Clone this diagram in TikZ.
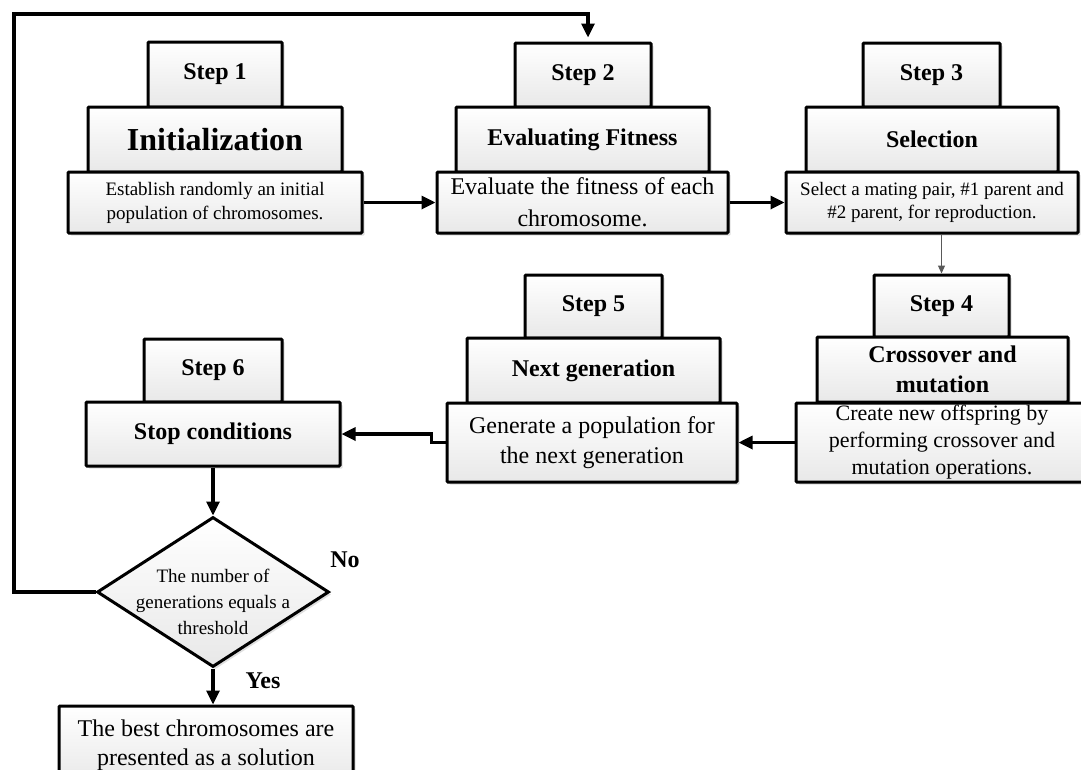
\documentclass[tikz,border=0pt]{standalone}
\usepackage{fontspec}
\setmainfont{Liberation Serif}
\usetikzlibrary{arrows.meta,shapes.geometric,shadows,calc}
\tikzset{
  box/.style={draw=black, line width=3pt, rounded corners=1pt, top color=white, bottom color=gray!18,
    drop shadow={shadow xshift=2.5pt, shadow yshift=-2.5pt, fill=black!25},
    inner sep=1pt, align=center, anchor=center},
  hd/.style={font=\bfseries\fontsize{24}{28}\selectfont},
  conn/.style={line width=3.2pt, -{Triangle[length=14pt,width=13pt]}},
  thinarrow/.style={line width=1.2pt, draw=black!65, -{Triangle[length=8pt,width=7pt]}},
  lab/.style={font=\bfseries\fontsize{24}{28}\selectfont, inner sep=0pt}
}
\begin{document}
\begin{tikzpicture}[x=1pt,y=-1pt]
\useasboundingbox (0,0) rectangle (1081,769);
\clip (0,0) rectangle (1081,769);
% Step 1
\node[box,hd,minimum width=134pt,minimum height=65pt] (s1) at (215,74.5) {Step 1};
\node[box,font=\bfseries\fontsize{32}{36}\selectfont,minimum width=254pt,minimum height=65pt] (t1) at (215,139.5) {Initialization};
\node[box,font=\fontsize{19}{24}\selectfont,minimum width=294pt,minimum height=61pt] (d1) at (215,202.5) {Establish randomly an initial\\population of chromosomes.};
% Step 2
\node[box,hd,minimum width=136pt,minimum height=64pt] (s2) at (583,75) {Step 2};
\node[box,hd,minimum width=253pt,minimum height=65pt] (t2) at (582.5,139.5) {Evaluating Fitness};
\node[box,font=\fontsize{24}{32}\selectfont,minimum width=291pt,minimum height=61pt] (d2) at (582.5,202.5) {Evaluate the fitness of each\\chromosome.};
% Step 3
\node[box,hd,minimum width=137pt,minimum height=64pt] (s3) at (931.5,75) {Step 3};
\node[box,hd,minimum width=252pt,minimum height=65pt] (t3) at (932,139.5) {Selection};
\node[box,font=\fontsize{19}{23}\selectfont,minimum width=292pt,minimum height=61pt] (d3) at (932,202.5) {Select a mating pair, \#1 parent and\\\#2 parent, for reproduction.};
% Step 4
\node[box,hd,minimum width=135pt,minimum height=62pt] (s4) at (941.5,306) {Step 4};
\node[box,font=\bfseries\fontsize{24}{30}\selectfont,minimum width=251pt,minimum height=65pt] (t4) at (942.5,369.5) {Crossover and\\mutation};
\node[box,font=\fontsize{22}{27}\selectfont,minimum width=292pt,minimum height=79pt] (d4) at (942,442.5) {Create new offspring by\\performing crossover and\\mutation operations.};
% Step 5
\node[box,hd,minimum width=137pt,minimum height=63pt] (s5) at (593.5,306.5) {Step 5};
\node[box,hd,minimum width=253pt,minimum height=65pt] (t5) at (593.5,370.5) {Next generation};
\node[box,font=\fontsize{24}{30}\selectfont,minimum width=290pt,minimum height=79pt] (d5) at (592,442.5) {Generate a population for\\the next generation};
% Step 6
\node[box,hd,minimum width=138pt,minimum height=63pt] (s6) at (213,370.5) {Step 6};
\node[box,hd,minimum width=254pt,minimum height=64pt] (t6) at (213,434) {Stop conditions};
% decision
\node[box,diamond,rounded corners=0pt,inner sep=0pt,minimum width=232pt,minimum height=150pt] (dec) at (213,592)
  {\smash{\makebox[0pt]{\raisebox{-16pt}{\fontsize{19}{26}\selectfont\begin{tabular}{@{}c@{}}The number of\\generations equals a\\threshold\end{tabular}}}}};
% result
\node[box,font=\fontsize{24}{29}\selectfont,minimum width=294pt,minimum height=78pt] (res) at (206,745) {The best chromosomes are\\presented as a solution};
% labels
\node[lab] (no) at (345,560) {No};
\node[lab] (yes) at (263,681) {Yes};
% connectors
\draw[conn] (d1.east) -- (d2.west);
\draw[conn] (d2.east) -- (d3.west);
\draw[thinarrow] (s4.north |- d3.south) -- (s4.north);
\draw[conn] (d4.west) -- (d5.east |- d4.west);
\draw[conn] (d5.west) -- ++(-14,0) |- (t6.east);
\draw[conn] (t6.south) -- (dec.north);
\draw[conn] (dec.south) -- (dec.south |- res.north);
\coordinate (lt) at (14,14);
\draw[conn, shorten >=4pt, line join=miter] (dec.west) -| (lt) -| ($(s2.north)+(5,0)$);
\end{tikzpicture}
\end{document}
